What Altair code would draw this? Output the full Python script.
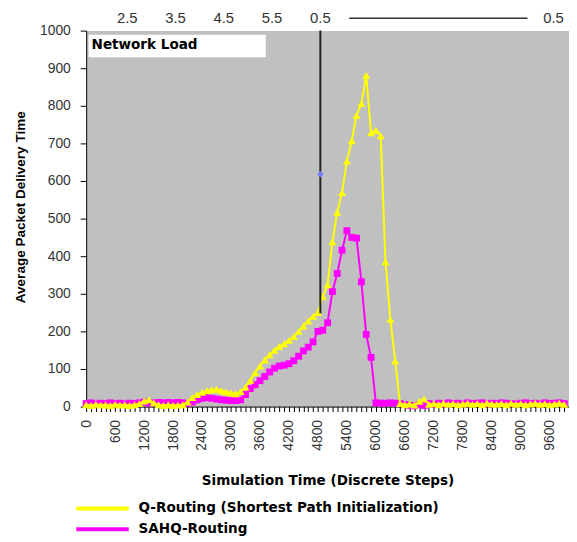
import altair as alt
import pandas as pd

# ---------------- data ----------------
steps = list(range(0, 10000, 100))

q_routing = [
    5, 3, 6, 4, 5, 3, 6, 4, 5, 3,
    5, 8, 15, 18, 10, 5, 3, 5, 3, 4,
    5, 12, 24, 32, 38, 42, 45, 46, 42, 39,
    36, 34, 40, 52, 70, 90, 108, 124, 138, 150,
    160, 167, 176, 186, 200, 214, 228, 240, 250, 293,
    324, 438, 517, 569, 653, 707, 775, 806, 881, 728,
    735, 720, 385, 232, 122, 8, 5, 7, 4, 14,
    20, 6, 8, 5, 9, 6, 8, 5, 7, 9,
    6, 8, 5, 9, 7, 6, 8, 5, 9, 6,
    8, 5, 7, 9, 6, 8, 5, 7, 9, 6,
]

sahq_routing = [
    8, 10, 7, 9, 8, 10, 8, 9, 7, 9,
    8, 10, 12, 9, 10, 11, 10, 11, 10, 11,
    10, 8, 12, 18, 22, 24, 22, 20, 18, 17,
    16, 16, 18, 32, 48, 58, 69, 80, 92, 102,
    108, 110, 114, 122, 134, 148, 158, 172, 200, 203,
    223, 306, 354, 416, 468, 450, 448, 332, 192, 131,
    10, 9, 9, 10, 9, 8, 5, 3, 2, 5,
    3, 8, 6, 9, 7, 10, 8, 9, 7, 10,
    8, 9, 10, 7, 9, 8, 10, 9, 8, 7,
    9, 10, 8, 9, 7, 10, 8, 9, 10, 8,
]

series_names = ["Q-Routing (Shortest Path Initialization)", "SAHQ-Routing"]
series_colors = ["#ffff00", "#ff00ff"]

x_ticks = list(range(0, 10000, 100))
y_ticks = list(range(0, 1001, 100))

# secondary "Network Load" labels along the top
load_labels = ["2.5", "3.5", "4.5", "5.5", "0.5", "0.5"]
load_positions = [850, 1850, 2850, 3850, 4850, 9680]
load_dash = [5450, 9140]

# marker line and point
marker_step = [4850]
marker_top = [1000]
marker_bottom = [248]
marker_point = [618]

# "Network Load" box
box_x = [50]
box_x2 = [3720]
box_y = [929]
box_y2 = [989]
box_label = ["Network Load"]

# ---------------- frames ----------------
q_df = pd.DataFrame({"step": steps, "value": q_routing})
s_df = pd.DataFrame({"step": steps, "value": sahq_routing})
load_df = pd.DataFrame({"step": load_positions, "label": load_labels})
dash_df = pd.DataFrame({"step": [load_dash[0]], "step2": [load_dash[1]]})
marker_df = pd.DataFrame({"step": marker_step, "value": marker_top,
                          "value2": marker_bottom, "p": marker_point})
box_df = pd.DataFrame({"step": box_x, "step2": box_x2, "value": box_y,
                       "value2": box_y2, "label": box_label})

TITLE_FONT = "DejaVu Sans"
TICK_FONT = "Liberation Sans"

x_scale = alt.Scale(domain=[0, 10000], nice=False, zero=False)
y_scale = alt.Scale(domain=[0, 1000], nice=False, zero=False)

x_axis = alt.Axis(
    values=x_ticks,
    labelExpr="datum.value % 600 === 0 ? format(datum.value, 'd') : ''",
    labelOverlap=False,
    labelFlush=False,
    labelAngle=270,
    labelPadding=8,
    labelFont=TICK_FONT,
    labelFontSize=14,
    labelColor="#333333",
    tickSize=5,
    tickColor="black",
    domainColor="black",
    grid=False,
    title="Simulation Time (Discrete Steps)",
    titleFont=TITLE_FONT,
    titleFontSize=13.7,
    titleFontWeight="bold",
    titleColor="black",
    titleX=244,
    titleY=75,
    titleAlign="center",
    titleBaseline="middle",
)

y_axis = alt.Axis(
    values=y_ticks,
    format="d",
    labelOverlap=False,
    labelFlush=False,
    labelFont=TICK_FONT,
    labelFontSize=14,
    labelColor="#333333",
    labelPadding=10,
    tickSize=6,
    tickColor="black",
    domainColor="black",
    grid=False,
    title="Average Packet Delivery Time",
    titleFont=TICK_FONT,
    titleFontSize=13.7,
    titleFontWeight="bold",
    titleColor="black",
    titleAngle=270,
    titleX=-66,
    titleY=178,
    titleAlign="center",
    titleBaseline="middle",
)


def X(field="step:Q"):
    return alt.X(field, scale=x_scale, axis=x_axis)


def Y(field="value:Q"):
    return alt.Y(field, scale=y_scale, axis=y_axis)


sahq_line = alt.Chart(s_df).mark_line(
    color=series_colors[1], strokeWidth=2,
    point=alt.OverlayMarkDef(shape="square", size=48, filled=True, color=series_colors[1]),
).encode(x=X(), y=Y())

q_line = alt.Chart(q_df).mark_line(
    color=series_colors[0], strokeWidth=2,
    point=alt.OverlayMarkDef(shape="triangle-up", size=65, filled=True, color=series_colors[0]),
).encode(x=X(), y=Y())

marker_rule = alt.Chart(marker_df).mark_rule(color="#222222", strokeWidth=2).encode(
    x=X(), y=Y(), y2="value2:Q"
)
marker_pt = alt.Chart(marker_df).mark_point(
    shape="diamond", filled=True, size=45, color="#7b7bff", opacity=1
).encode(x=X(), y=Y("p:Q"))

box_rect = alt.Chart(box_df).mark_rect(color="white").encode(
    x=X(), x2="step2:Q", y=Y(), y2="value2:Q",
)
box_text = alt.Chart(box_df).mark_text(
    font=TITLE_FONT, fontSize=13.7, fontWeight="bold", color="black",
    align="left", baseline="middle", dx=3,
).encode(x=X(), y=alt.value(15), text="label:N")

load_text = alt.Chart(load_df).mark_text(
    font=TICK_FONT, fontSize=15, color="#333333", align="center", baseline="middle"
).encode(x=X(), y=alt.value(-12.5), text="label:N")

load_rule = alt.Chart(dash_df).mark_rule(color="#333333", strokeWidth=1.5).encode(
    x=X(), x2="step2:Q", y=alt.value(-12.5)
)

leg_q_line = alt.Chart(pd.DataFrame({"label": [series_names[0]]})).mark_rule(
    color=series_colors[0], strokeWidth=4
).encode(x=alt.value(-10), x2=alt.value(43), y=alt.value(483))
leg_q_text = alt.Chart(pd.DataFrame({"label": [series_names[0]]})).mark_text(
    font=TITLE_FONT, fontSize=13.7, fontWeight="bold", color="black",
    align="left", baseline="middle",
).encode(x=alt.value(53), y=alt.value(483), text="label:N")

leg_s_line = alt.Chart(pd.DataFrame({"label": [series_names[1]]})).mark_rule(
    color=series_colors[1], strokeWidth=4
).encode(x=alt.value(-10), x2=alt.value(43), y=alt.value(504))
leg_s_text = alt.Chart(pd.DataFrame({"label": [series_names[1]]})).mark_text(
    font=TITLE_FONT, fontSize=13.7, fontWeight="bold", color="black",
    align="left", baseline="middle",
).encode(x=alt.value(53), y=alt.value(504), text="label:N")

chart = alt.layer(
    sahq_line, q_line, marker_rule, marker_pt, box_rect, box_text,
    load_text, load_rule, leg_q_line, leg_q_text, leg_s_line, leg_s_text,
).properties(
    width=488,
    height=380,
    autosize=alt.AutoSizeParams(type="none"),
    padding={"left": 79, "top": 20, "right": 0, "bottom": 134},
    background="white",
).configure_view(
    fill="#c0c0c0", stroke="transparent"
)

chart.save("out.html", embed_options={"renderer": "svg", "actions": False})
